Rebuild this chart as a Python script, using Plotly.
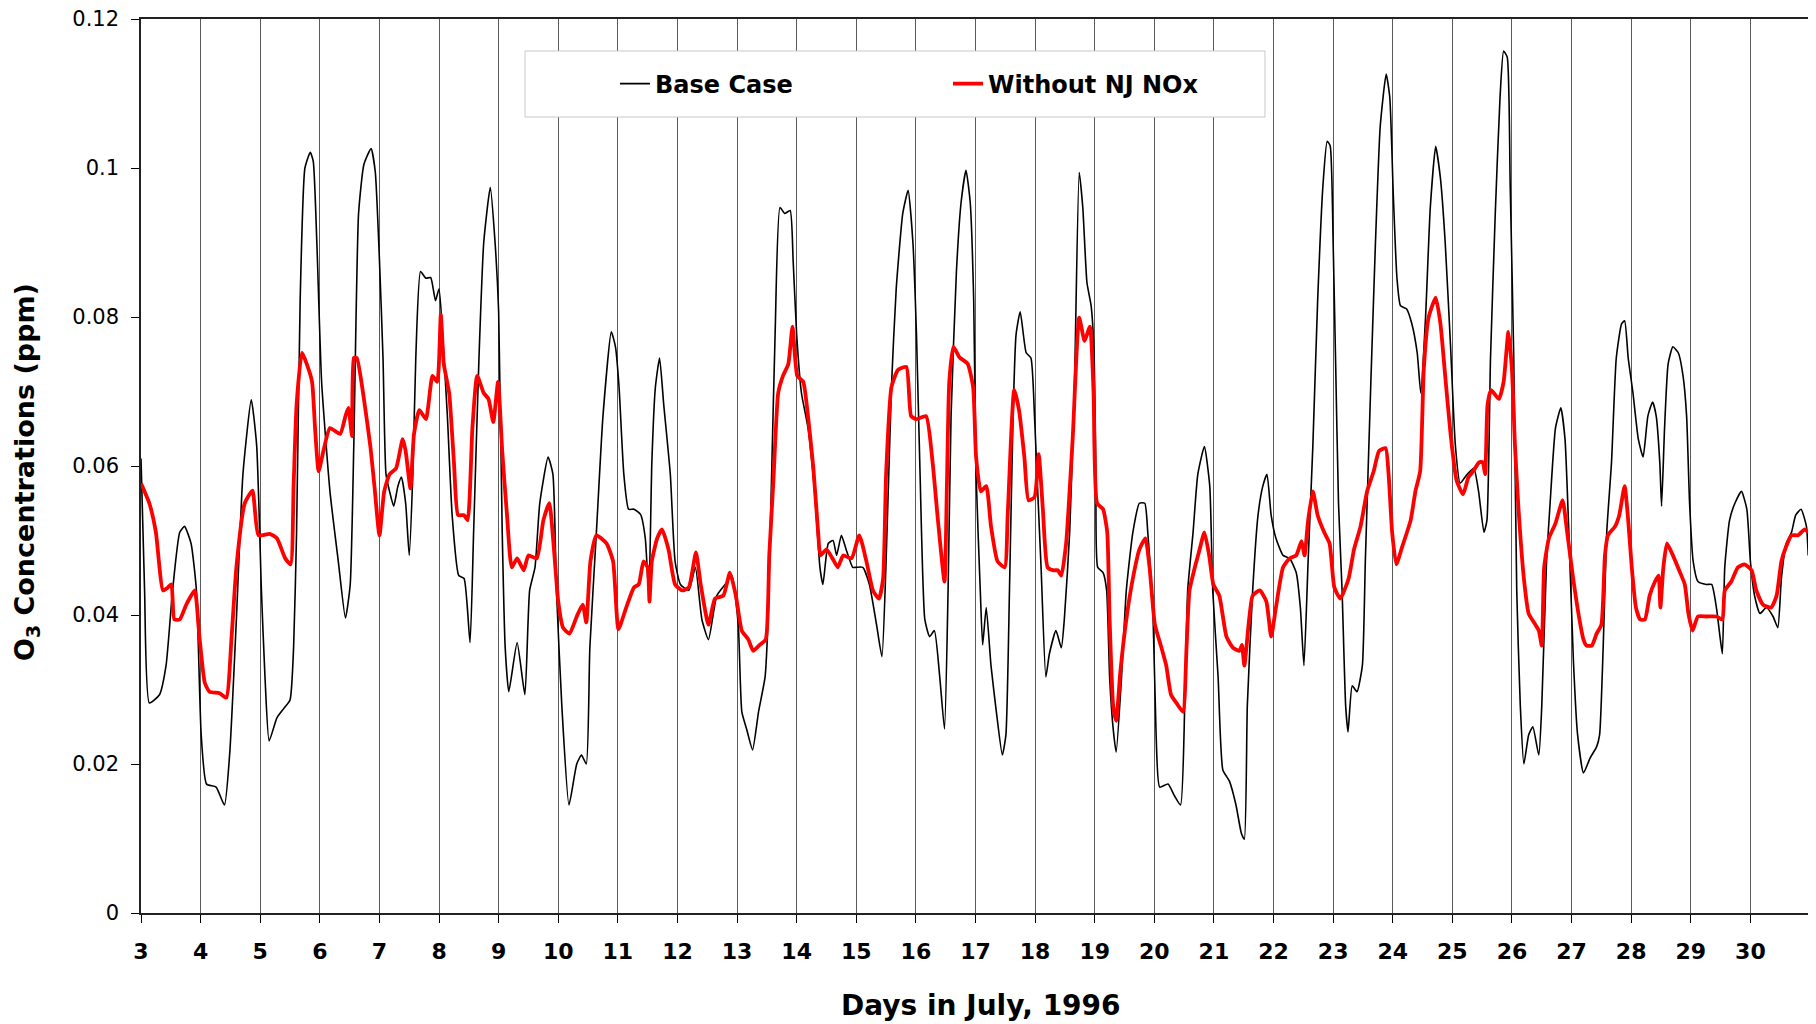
import plotly.graph_objects as go

# ---- Data ----
base_day = [3.00, 3.06, 3.14, 3.31, 3.42, 3.53, 3.65, 3.73, 3.84, 3.93, 4.01, 4.10, 4.26, 4.40, 4.49, 4.60,
            4.71, 4.85, 4.94, 5.02, 5.08, 5.15, 5.28, 5.39, 5.50, 5.56, 5.61, 5.67, 5.75, 5.84, 5.89, 5.95,
            6.03, 6.17, 6.31, 6.43, 6.51, 6.57, 6.65, 6.74, 6.86, 6.93, 7.00, 7.06, 7.11, 7.17, 7.24, 7.31,
            7.37, 7.44, 7.50, 7.56, 7.61, 7.69, 7.78, 7.86, 7.94, 8.00, 8.06, 8.14, 8.22, 8.33, 8.42, 8.52,
            8.58, 8.67, 8.75, 8.86, 8.94, 9.00, 9.06, 9.11, 9.17, 9.31, 9.44, 9.52, 9.61, 9.69, 9.83, 9.91,
            9.97, 10.06, 10.18, 10.31, 10.39, 10.47, 10.53, 10.64, 10.75, 10.89, 10.96, 11.02, 11.10, 11.18,
            11.27, 11.38, 11.46, 11.52, 11.57, 11.63, 11.70, 11.77, 11.88, 11.96, 12.05, 12.19, 12.30, 12.41,
            12.52, 12.66, 12.80, 12.91, 13.02, 13.08, 13.16, 13.26, 13.36, 13.47, 13.52, 13.58, 13.64, 13.72,
            13.80, 13.89, 13.94, 14.00, 14.08, 14.19, 14.30, 14.39, 14.44, 14.53, 14.61, 14.67, 14.75, 14.83,
            14.94, 15.00, 15.11, 15.22, 15.34, 15.43, 15.50, 15.59, 15.67, 15.78, 15.87, 15.95, 16.01, 16.07,
            16.15, 16.23, 16.31, 16.40, 16.48, 16.54, 16.59, 16.68, 16.76, 16.84, 16.91, 16.97, 17.01, 17.08,
            17.12, 17.18, 17.26, 17.35, 17.45, 17.51, 17.57, 17.63, 17.68, 17.75, 17.85, 17.93, 17.99, 18.04,
            18.10, 18.18, 18.24, 18.35, 18.44, 18.49, 18.58, 18.66, 18.74, 18.80, 18.87, 18.94, 18.99, 19.02,
            19.05, 19.14, 19.20, 19.25, 19.31, 19.36, 19.45, 19.53, 19.64, 19.75, 19.84, 19.89, 19.98, 20.03,
            20.09, 20.23, 20.34, 20.44, 20.51, 20.56, 20.65, 20.73, 20.84, 20.93, 20.98, 21.07, 21.15, 21.26,
            21.37, 21.46, 21.51, 21.56, 21.65, 21.74, 21.82, 21.89, 21.96, 22.04, 22.16, 22.27, 22.38, 22.45,
            22.51, 22.58, 22.66, 22.74, 22.83, 22.90, 22.95, 23.00, 23.04, 23.09, 23.15, 23.21, 23.25, 23.32,
            23.40, 23.49, 23.54, 23.63, 23.71, 23.79, 23.89, 23.95, 24.01, 24.07, 24.13, 24.23, 24.32, 24.41,
            24.47, 24.55, 24.63, 24.72, 24.80, 24.88, 24.97, 25.05, 25.13, 25.25, 25.36, 25.44, 25.53, 25.58,
            25.64, 25.72, 25.80, 25.86, 25.92, 25.97, 26.03, 26.08, 26.14, 26.20, 26.28, 26.35, 26.45, 26.50,
            26.58, 26.64, 26.73, 26.82, 26.89, 26.95, 27.03, 27.10, 27.20, 27.31, 27.42, 27.47, 27.53, 27.59,
            27.67, 27.75, 27.84, 27.89, 27.95, 28.03, 28.12, 28.20, 28.28, 28.36, 28.42, 28.48, 28.51, 28.56,
            28.62, 28.70, 28.79, 28.87, 28.93, 28.98, 29.04, 29.12, 29.26, 29.35, 29.43, 29.49, 29.53, 29.57,
            29.65, 29.74, 29.85, 29.94, 30.00, 30.07, 30.16, 30.27, 30.38, 30.46, 30.52, 30.60, 30.69, 30.76,
            30.85, 30.94, 30.97]
base_o3 = [0.0610, 0.0433, 0.0282, 0.0293, 0.0332, 0.0433, 0.0511, 0.0519, 0.0496, 0.0433, 0.0239, 0.0173,
           0.0169, 0.0145, 0.0216, 0.0394, 0.0589, 0.0689, 0.0628, 0.0433, 0.0317, 0.0231, 0.0262, 0.0274,
           0.0286, 0.0356, 0.0511, 0.0822, 0.1000, 0.1021, 0.1009, 0.0900, 0.0713, 0.0566, 0.0472, 0.0396,
           0.0441, 0.0628, 0.0939, 0.1005, 0.1026, 0.0995, 0.0877, 0.0745, 0.0589, 0.0566, 0.0546, 0.0573,
           0.0585, 0.0550, 0.0480, 0.0589, 0.0745, 0.0861, 0.0852, 0.0853, 0.0822, 0.0838, 0.0776, 0.0667,
           0.0534, 0.0453, 0.0449, 0.0363, 0.0511, 0.0745, 0.0900, 0.0974, 0.0900, 0.0807, 0.0511, 0.0356,
           0.0297, 0.0363, 0.0293, 0.0433, 0.0464, 0.0550, 0.0612, 0.0589, 0.0433, 0.0278, 0.0145, 0.0200,
           0.0212, 0.0200, 0.0356, 0.0511, 0.0667, 0.0780, 0.0760, 0.0706, 0.0589, 0.0542, 0.0542, 0.0535,
           0.0503, 0.0426, 0.0604, 0.0706, 0.0745, 0.0682, 0.0589, 0.0472, 0.0441, 0.0433, 0.0464, 0.0394,
           0.0367, 0.0426, 0.0441, 0.0453, 0.0387, 0.0270, 0.0247, 0.0219, 0.0270, 0.0317, 0.0394, 0.0589,
           0.0783, 0.0947, 0.0939, 0.0943, 0.0877, 0.0776, 0.0698, 0.0651, 0.0566, 0.0464, 0.0441, 0.0496,
           0.0500, 0.0480, 0.0507, 0.0488, 0.0464, 0.0464, 0.0464, 0.0441, 0.0387, 0.0344, 0.0472, 0.0706,
           0.0838, 0.0939, 0.0970, 0.0900, 0.0776, 0.0589, 0.0394, 0.0371, 0.0379, 0.0317, 0.0247, 0.0433,
           0.0667, 0.0861, 0.0955, 0.0997, 0.0955, 0.0822, 0.0589, 0.0433, 0.0360, 0.0410, 0.0332, 0.0270,
           0.0212, 0.0239, 0.0433, 0.0667, 0.0776, 0.0807, 0.0752, 0.0745, 0.0667, 0.0573, 0.0464, 0.0317,
           0.0348, 0.0379, 0.0356, 0.0394, 0.0511, 0.0706, 0.0994, 0.0947, 0.0846, 0.0815, 0.0750, 0.0589,
           0.0464, 0.0457, 0.0433, 0.0317, 0.0247, 0.0216, 0.0317, 0.0433, 0.0511, 0.0550, 0.0550, 0.0511,
           0.0394, 0.0239, 0.0169, 0.0173, 0.0157, 0.0145, 0.0278, 0.0433, 0.0511, 0.0589, 0.0626, 0.0573,
           0.0433, 0.0317, 0.0192, 0.0177, 0.0145, 0.0107, 0.0099, 0.0278, 0.0433, 0.0534, 0.0573, 0.0589,
           0.0534, 0.0503, 0.0480, 0.0476, 0.0457, 0.0410, 0.0332, 0.0472, 0.0628, 0.0822, 0.0978, 0.1036,
           0.1030, 0.0900, 0.0745, 0.0550, 0.0433, 0.0278, 0.0243, 0.0305, 0.0297, 0.0332, 0.0472, 0.0706,
           0.0900, 0.1056, 0.1126, 0.1095, 0.0962, 0.0853, 0.0815, 0.0811, 0.0791, 0.0752, 0.0698, 0.0799,
           0.0947, 0.1029, 0.0986, 0.0900, 0.0760, 0.0628, 0.0577, 0.0589, 0.0597, 0.0566, 0.0511, 0.0527,
           0.0745, 0.0939, 0.1095, 0.1157, 0.1149, 0.0978, 0.0745, 0.0433, 0.0278, 0.0200, 0.0239, 0.0250,
           0.0212, 0.0278, 0.0472, 0.0550, 0.0651, 0.0678, 0.0636, 0.0520, 0.0340, 0.0240, 0.0188, 0.0208,
           0.0223, 0.0239, 0.0356, 0.0511, 0.0605, 0.0745, 0.0791, 0.0795, 0.0745, 0.0698, 0.0636, 0.0612,
           0.0667, 0.0686, 0.0667, 0.0605, 0.0546, 0.0651, 0.0737, 0.0760, 0.0752, 0.0721, 0.0667, 0.0550,
           0.0472, 0.0445, 0.0441, 0.0441, 0.0410, 0.0371, 0.0348, 0.0464, 0.0527, 0.0550, 0.0566, 0.0542,
           0.0472, 0.0426, 0.0402, 0.0410, 0.0398, 0.0383, 0.0449, 0.0496, 0.0511, 0.0534, 0.0542, 0.0519,
           0.0480]

nonj_day = [3.00, 3.14, 3.25, 3.37, 3.45, 3.51, 3.56, 3.65, 3.76, 3.90, 3.98, 4.07, 4.15, 4.32, 4.43, 4.52,
            4.60, 4.74, 4.87, 4.97, 5.16, 5.28, 5.42, 5.51, 5.56, 5.61, 5.70, 5.78, 5.87, 5.92, 5.98, 6.06,
            6.17, 6.34, 6.43, 6.48, 6.54, 6.57, 6.62, 6.74, 6.85, 6.92, 7.00, 7.08, 7.17, 7.28, 7.39, 7.44,
            7.52, 7.58, 7.67, 7.78, 7.89, 7.97, 8.03, 8.08, 8.17, 8.25, 8.32, 8.42, 8.48, 8.56, 8.64, 8.75,
            8.83, 8.91, 8.99, 9.06, 9.14, 9.22, 9.31, 9.42, 9.50, 9.64, 9.75, 9.85, 9.92, 10.00, 10.08, 10.19,
            10.31, 10.41, 10.47, 10.54, 10.64, 10.81, 10.92, 11.01, 11.14, 11.27, 11.35, 11.43, 11.50, 11.53,
            11.57, 11.66, 11.74, 11.85, 11.96, 12.08, 12.19, 12.31, 12.39, 12.52, 12.63, 12.77, 12.88, 12.98,
            13.08, 13.19, 13.27, 13.38, 13.48, 13.54, 13.61, 13.69, 13.77, 13.86, 13.93, 14.01, 14.11, 14.19,
            14.28, 14.36, 14.40, 14.50, 14.60, 14.69, 14.78, 14.92, 15.05, 15.17, 15.28, 15.38, 15.45, 15.50,
            15.59, 15.70, 15.84, 15.92, 16.01, 16.17, 16.28, 16.37, 16.48, 16.52, 16.56, 16.63, 16.73, 16.87,
            16.96, 17.01, 17.09, 17.18, 17.26, 17.37, 17.49, 17.54, 17.65, 17.73, 17.82, 17.89, 17.99, 18.06,
            18.13, 18.21, 18.31, 18.38, 18.44, 18.52, 18.63, 18.74, 18.83, 18.92, 18.98, 19.04, 19.14, 19.21,
            19.25, 19.31, 19.36, 19.43, 19.53, 19.64, 19.75, 19.85, 19.92, 20.01, 20.12, 20.20, 20.28, 20.37,
            20.48, 20.54, 20.59, 20.68, 20.76, 20.84, 20.92, 20.99, 21.09, 21.21, 21.32, 21.43, 21.47, 21.51,
            21.59, 21.65, 21.77, 21.88, 21.96, 22.04, 22.16, 22.27, 22.38, 22.47, 22.52, 22.58, 22.66, 22.74,
            22.85, 22.94, 23.02, 23.12, 23.26, 23.35, 23.46, 23.57, 23.68, 23.77, 23.88, 23.93, 23.99, 24.06,
            24.16, 24.30, 24.38, 24.46, 24.52, 24.60, 24.72, 24.80, 24.88, 24.97, 25.07, 25.18, 25.27, 25.35,
            25.45, 25.51, 25.55, 25.59, 25.65, 25.78, 25.86, 25.94, 26.00, 26.05, 26.11, 26.20, 26.28, 26.37,
            26.45, 26.50, 26.54, 26.62, 26.73, 26.85, 26.92, 27.02, 27.13, 27.20, 27.25, 27.34, 27.42, 27.50,
            27.56, 27.61, 27.73, 27.80, 27.89, 27.95, 28.01, 28.08, 28.15, 28.23, 28.31, 28.40, 28.46, 28.49,
            28.54, 28.60, 28.70, 28.82, 28.90, 28.96, 29.03, 29.12, 29.26, 29.43, 29.53, 29.57, 29.68, 29.79,
            29.90, 30.02, 30.10, 30.21, 30.35, 30.44, 30.52, 30.60, 30.69, 30.80, 30.91, 30.97]
nonj_o3 = [0.0577, 0.0550, 0.0511, 0.0433, 0.0437, 0.0441, 0.0394, 0.0394, 0.0414, 0.0433, 0.0371, 0.0309,
           0.0297, 0.0295, 0.0289, 0.0371, 0.0464, 0.0550, 0.0567, 0.0507, 0.0509, 0.0503, 0.0476, 0.0468,
           0.0573, 0.0682, 0.0752, 0.0737, 0.0713, 0.0651, 0.0593, 0.0620, 0.0651, 0.0643, 0.0667, 0.0678,
           0.0640, 0.0745, 0.0745, 0.0690, 0.0625, 0.0570, 0.0507, 0.0566, 0.0589, 0.0597, 0.0636, 0.0620,
           0.0570, 0.0643, 0.0675, 0.0663, 0.0721, 0.0713, 0.0803, 0.0737, 0.0698, 0.0605, 0.0534, 0.0534,
           0.0527, 0.0651, 0.0721, 0.0698, 0.0690, 0.0659, 0.0713, 0.0620, 0.0534, 0.0464, 0.0476, 0.0460,
           0.0480, 0.0476, 0.0527, 0.0550, 0.0496, 0.0418, 0.0383, 0.0375, 0.0398, 0.0414, 0.0390, 0.0472,
           0.0507, 0.0496, 0.0472, 0.0381, 0.0410, 0.0437, 0.0441, 0.0472, 0.0464, 0.0418, 0.0472, 0.0503,
           0.0515, 0.0488, 0.0441, 0.0433, 0.0437, 0.0484, 0.0441, 0.0387, 0.0422, 0.0426, 0.0457, 0.0426,
           0.0379, 0.0367, 0.0352, 0.0360, 0.0367, 0.0480, 0.0581, 0.0698, 0.0721, 0.0737, 0.0787, 0.0721,
           0.0713, 0.0667, 0.0597, 0.0511, 0.0480, 0.0488, 0.0476, 0.0464, 0.0480, 0.0476, 0.0507, 0.0472,
           0.0433, 0.0422, 0.0449, 0.0589, 0.0706, 0.0729, 0.0733, 0.0667, 0.0663, 0.0667, 0.0605, 0.0527,
           0.0445, 0.0573, 0.0713, 0.0760, 0.0746, 0.0737, 0.0706, 0.0612, 0.0566, 0.0573, 0.0519, 0.0472,
           0.0464, 0.0534, 0.0702, 0.0675, 0.0612, 0.0554, 0.0558, 0.0616, 0.0542, 0.0464, 0.0460, 0.0460,
           0.0453, 0.0496, 0.0636, 0.0799, 0.0768, 0.0787, 0.0700, 0.0550, 0.0542, 0.0511, 0.0394, 0.0278,
           0.0258, 0.0324, 0.0394, 0.0449, 0.0488, 0.0503, 0.0464, 0.0387, 0.0356, 0.0332, 0.0293, 0.0282,
           0.0270, 0.0356, 0.0433, 0.0464, 0.0488, 0.0511, 0.0480, 0.0441, 0.0426, 0.0371, 0.0356, 0.0352,
           0.0360, 0.0332, 0.0394, 0.0426, 0.0433, 0.0418, 0.0371, 0.0410, 0.0464, 0.0476, 0.0480, 0.0499,
           0.0480, 0.0527, 0.0566, 0.0534, 0.0511, 0.0496, 0.0437, 0.0422, 0.0449, 0.0488, 0.0519, 0.0566,
           0.0593, 0.0620, 0.0624, 0.0589, 0.0511, 0.0468, 0.0492, 0.0527, 0.0566, 0.0593, 0.0729, 0.0799,
           0.0826, 0.0791, 0.0721, 0.0643, 0.0581, 0.0562, 0.0585, 0.0593, 0.0605, 0.0605, 0.0589, 0.0682,
           0.0702, 0.0690, 0.0713, 0.0780, 0.0729, 0.0628, 0.0542, 0.0449, 0.0402, 0.0390, 0.0379, 0.0359,
           0.0464, 0.0503, 0.0523, 0.0554, 0.0515, 0.0453, 0.0395, 0.0367, 0.0359, 0.0359, 0.0375, 0.0387,
           0.0480, 0.0507, 0.0519, 0.0534, 0.0573, 0.0527, 0.0464, 0.0410, 0.0394, 0.0394, 0.0426, 0.0445,
           0.0453, 0.0410, 0.0464, 0.0496, 0.0480, 0.0457, 0.0441, 0.0402, 0.0379, 0.0398, 0.0398, 0.0398,
           0.0394, 0.0433, 0.0445, 0.0464, 0.0468, 0.0460, 0.0433, 0.0414, 0.0410, 0.0426, 0.0472, 0.0492,
           0.0507, 0.0507, 0.0515, 0.0511]

x_ticks = list(range(3, 31))
y_ticks = [0, 0.02, 0.04, 0.06, 0.08, 0.1, 0.12]
y_tick_text = ["0", "0.02", "0.04", "0.06", "0.08", "0.1", "0.12"]

series_names = ["Base Case", "Without NJ NOx"]

# ---- Figure geometry (page pixels; the HTML body adds an 8 px margin) ----
OFF = 8
W, H = 1816 - OFF, 1024 - OFF
PLOT_L, PLOT_R, PLOT_T, PLOT_B = 141, 1810, 19, 913   # page coordinates of the plot area
L = PLOT_L - OFF
T = PLOT_T - OFF
R = (1816 - OFF) - (PLOT_R - OFF)
B = (1024 - OFF) - (PLOT_B - OFF)
pw, ph = PLOT_R - PLOT_L, PLOT_B - PLOT_T


def px_x(p):
    return (p - PLOT_L) / pw


def px_y(p):
    return (PLOT_B - p) / ph


FONT = "DejaVu Sans"

fig = go.Figure()
fig.add_trace(go.Scatter(x=base_day, y=base_o3, mode="lines", name=series_names[0],
                         line=dict(color="black", width=1.6, shape="spline", smoothing=0.5)))
fig.add_trace(go.Scatter(x=nonj_day, y=nonj_o3, mode="lines", name=series_names[1],
                         line=dict(color="#ff0000", width=3.8, shape="spline", smoothing=0.5)))

fig.update_layout(
    width=W, height=H,
    margin=dict(l=L, r=R, t=T, b=B, pad=0, autoexpand=False),
    paper_bgcolor="white", plot_bgcolor="white",
    font=dict(family=FONT, color="black"),
    showlegend=True,
    legend=dict(orientation="h", x=px_x(615), y=px_y(84), xanchor="left", yanchor="middle",
                bgcolor="rgba(0,0,0,0)", borderwidth=0,
                font=dict(family=FONT, size=24, color="black", weight="bold"),
                entrywidth=288, entrywidthmode="pixels"),
    shapes=[dict(type="rect", xref="paper", yref="paper",
                 x0=px_x(525), x1=px_x(1265), y0=px_y(117), y1=px_y(51),
                 line=dict(color="#c8c8c8", width=1), fillcolor="white", layer="above")],
    annotations=[
        dict(text="O<sub>3</sub> Concentrations (ppm)", textangle=-90, showarrow=False,
             xref="paper", yref="paper", x=px_x(26), y=px_y(472), xanchor="center", yanchor="middle",
             font=dict(family=FONT, size=27, color="black", weight="bold")),
        dict(text="Days in July, 1996", showarrow=False,
             xref="paper", yref="paper", x=px_x(981), y=px_y(1005), xanchor="center", yanchor="middle",
             font=dict(family=FONT, size=28, color="black", weight="bold")),
    ],
)

fig.update_xaxes(range=[3, 31], tickmode="array", tickvals=x_ticks, ticktext=[str(v) for v in x_ticks],
                 ticks="outside", ticklen=8, tickwidth=1, tickcolor="black",
                 showgrid=True, gridcolor="#5a5a5a", gridwidth=1,
                 showline=True, linecolor="#222222", linewidth=1.5, mirror=True, zeroline=False,
                 tickfont=dict(family=FONT, size=22, color="black", weight="bold"),
                 ticklabelstandoff=10, ticklabeloverflow="allow", automargin=False)
fig.update_yaxes(range=[0, 0.12], tickmode="array", tickvals=y_ticks, ticktext=y_tick_text,
                 ticks="outside", ticklen=8, tickwidth=1, tickcolor="black",
                 showgrid=False, showline=True, linecolor="#222222", linewidth=1.5, mirror=True,
                 zeroline=False,
                 tickfont=dict(family=FONT, size=21, color="black"),
                 ticklabelstandoff=8, ticklabeloverflow="allow", automargin=False)

fig.write_html("out.html")
